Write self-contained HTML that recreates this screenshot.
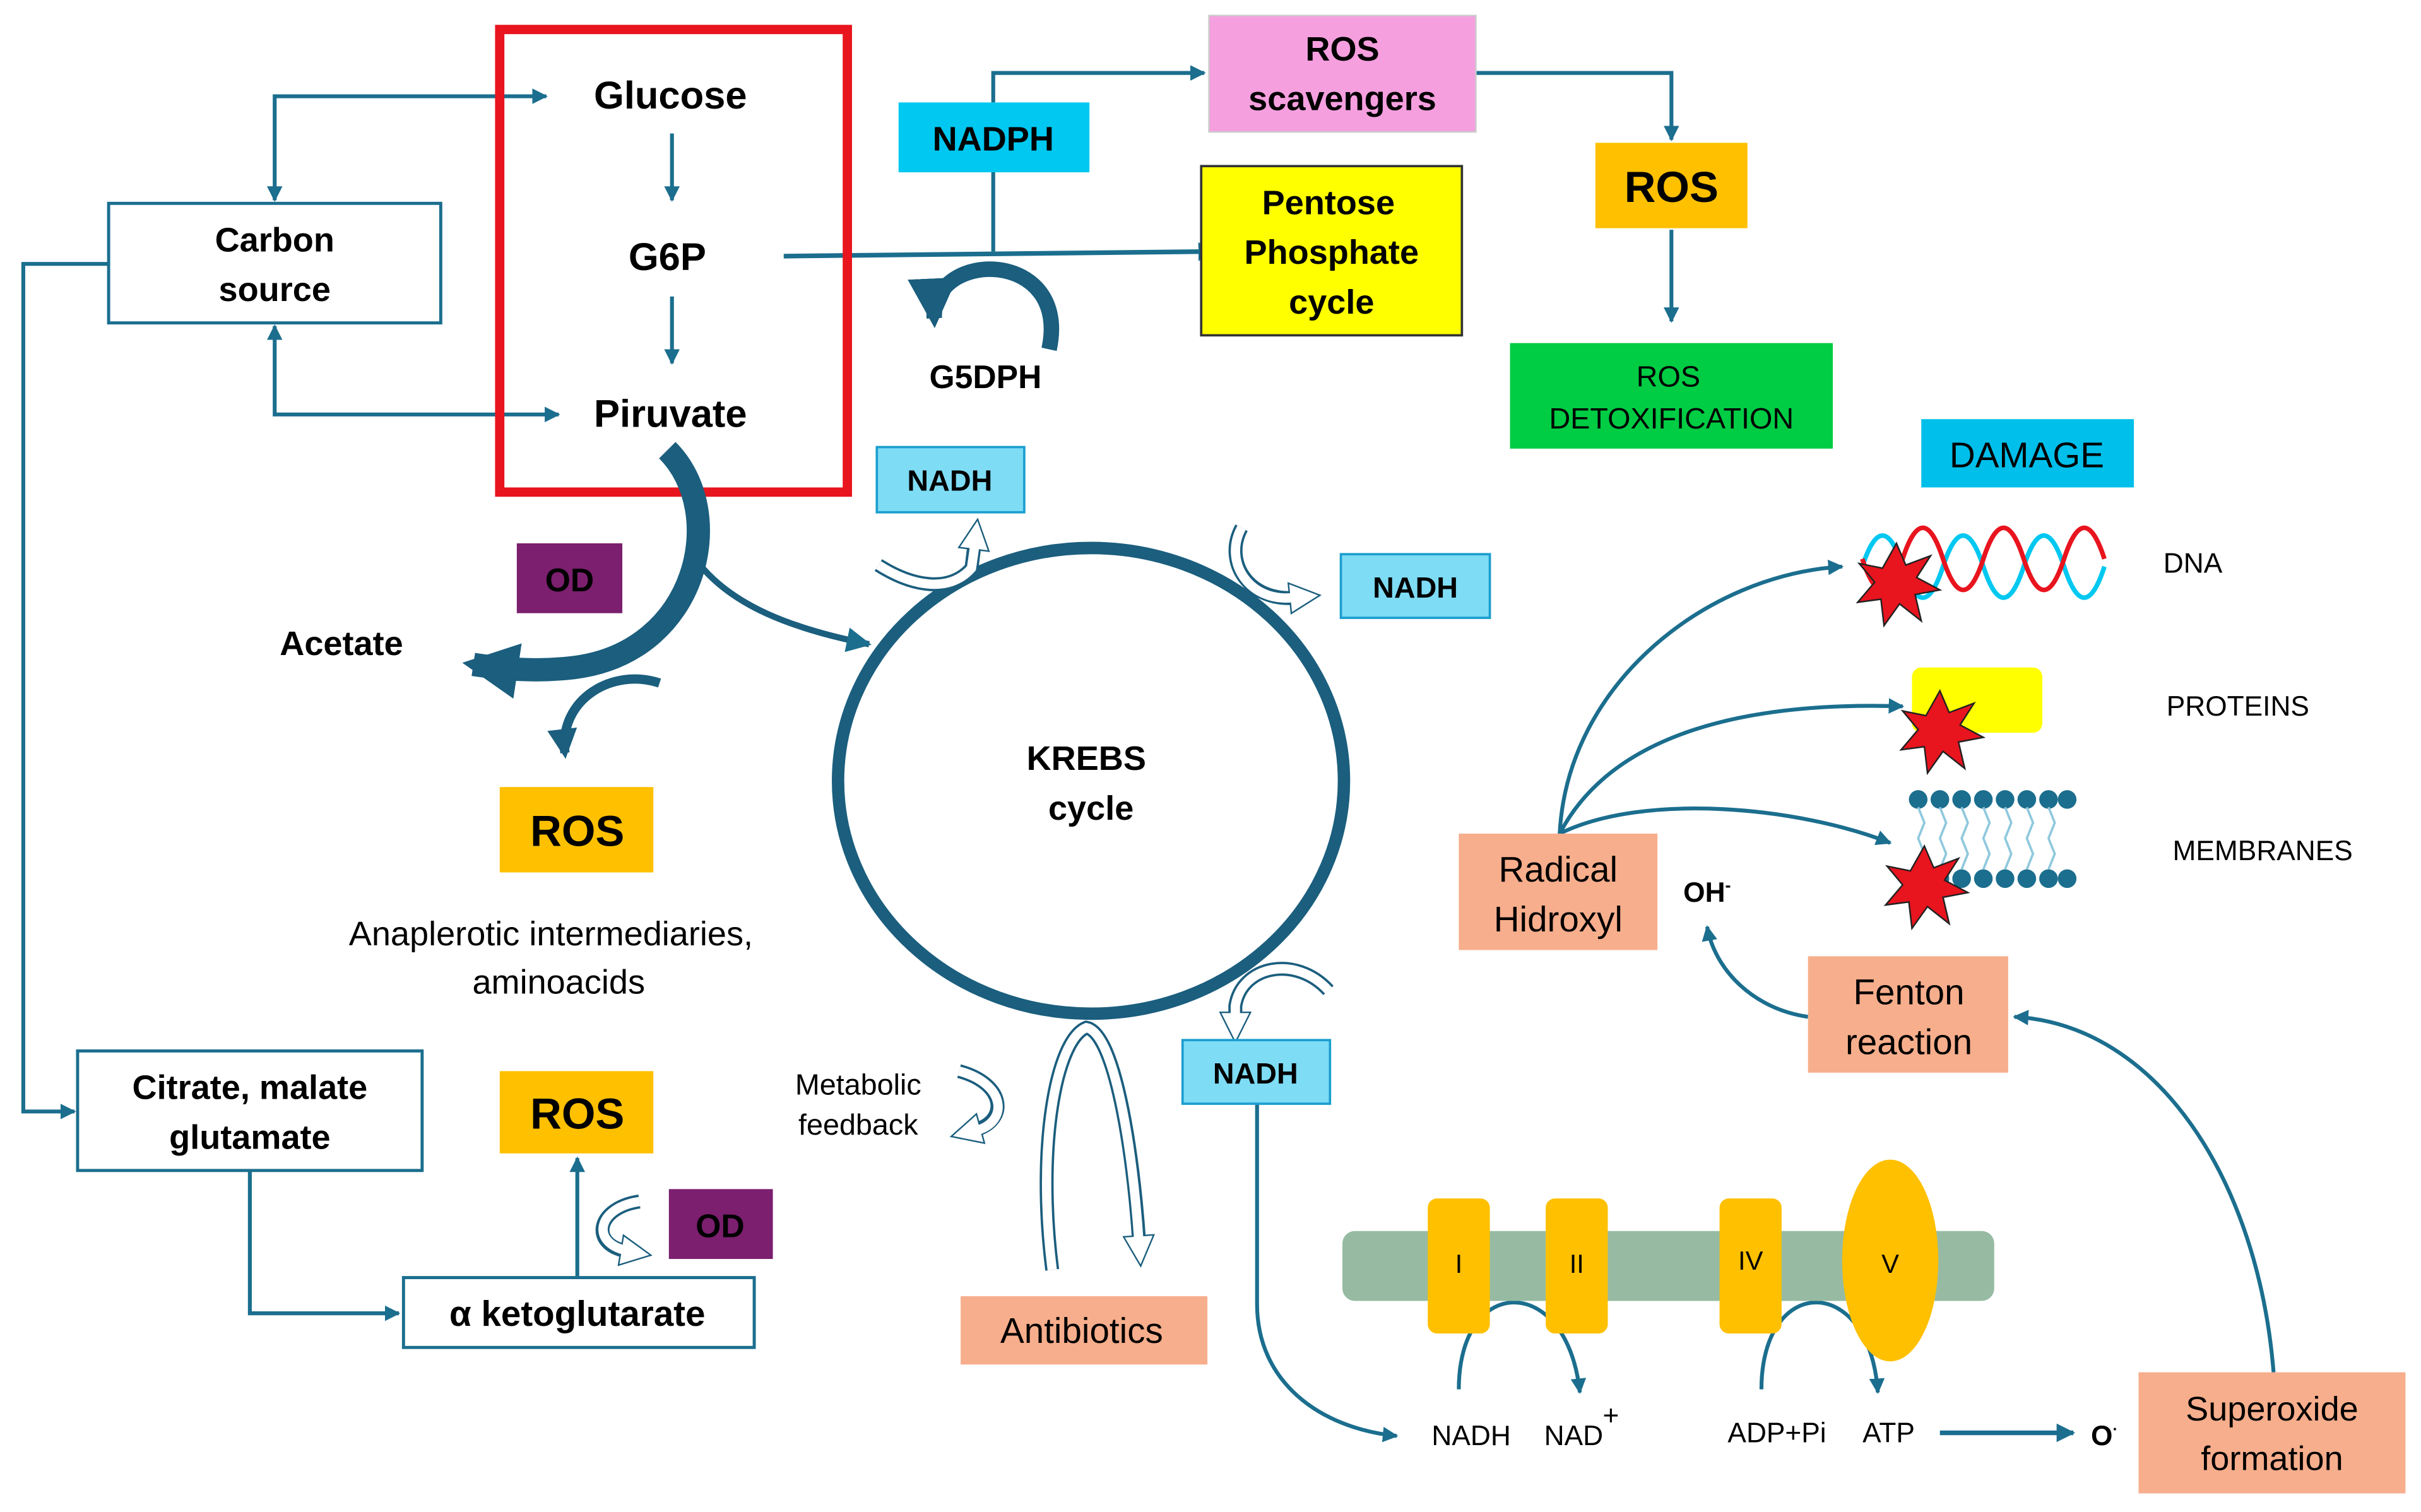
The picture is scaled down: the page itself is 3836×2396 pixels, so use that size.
<!DOCTYPE html>
<html><head><meta charset="utf-8"><style>
html,body{margin:0;padding:0;background:#fff;}
svg{display:block;}
text{font-family:"Liberation Sans","DejaVu Sans",sans-serif;}
.b{font-weight:bold;}
</style></head><body>
<svg width="3836" height="2396" viewBox="0 0 1560 974" preserveAspectRatio="none" xmlns="http://www.w3.org/2000/svg">
<defs>
<marker id="a" viewBox="0 0 10 10" refX="9" refY="5" markerWidth="4" markerHeight="4" orient="auto-start-reverse"><path d="M0,0 L10,5 L0,10 z" fill="#1B6E8E"/></marker>
<marker id="ab" viewBox="0 0 10 10" refX="8" refY="5" markerWidth="2.4" markerHeight="2.4" orient="auto"><path d="M0,0 L10,5 L0,10 z" fill="#1B5E7E"/></marker>
<marker id="ab2" viewBox="0 0 10 10" refX="8" refY="5" markerWidth="3.2" markerHeight="3.2" orient="auto"><path d="M0,0 L10,5 L0,10 z" fill="#1B5E7E"/></marker>
<marker id="hw" viewBox="-1 -1 12 12" refX="2" refY="5" markerWidth="2.6" markerHeight="2.6" orient="auto"><path d="M0,0 L10,5 L0,10 z" fill="#fff" stroke="#1B5E7E" stroke-width="0.5"/></marker>
</defs>
<rect width="1560" height="974" fill="#fff"/>
<g stroke="#1B6E8E" stroke-width="2.5" fill="none">
<polyline points="177,129 177,62 352,62" marker-start="url(#a)" marker-end="url(#a)"/>
<polyline points="177,210 177,267 360,267" marker-start="url(#a)" marker-end="url(#a)"/>
<polyline points="70,170 15,170 15,716 48,716" marker-end="url(#a)"/>
<polyline points="161,754 161,846 257,846" marker-end="url(#a)"/>
<line x1="433" y1="86" x2="433" y2="129" marker-end="url(#a)"/>
<line x1="433" y1="191" x2="433" y2="234" marker-end="url(#a)"/>
<line x1="372" y1="822" x2="372" y2="746" marker-end="url(#a)"/>
<line x1="505" y1="165" x2="783" y2="162" stroke-width="3" marker-end="url(#a)"/>
<line x1="640" y1="111" x2="640" y2="162"/>
<polyline points="640,66 640,47 776,47" marker-end="url(#a)"/>
<polyline points="951,47 1077,47 1077,90" marker-end="url(#a)"/>
<line x1="1077" y1="148" x2="1077" y2="207" marker-end="url(#a)"/>
<path d="M1005,537 C1010,440 1100,370 1187,365" marker-end="url(#a)"/>
<path d="M1005,537 C1040,470 1130,452 1226,455" marker-end="url(#a)"/>
<path d="M1005,537 C1060,510 1160,520 1218,543" marker-end="url(#a)"/>
<path d="M1165,655 C1130,650 1105,625 1100,597" marker-end="url(#a)"/>
<path d="M1465,884 C1455,760 1390,660 1298,655" marker-end="url(#a)"/>
<path d="M810,711 L810,840 C810,890 850,920 900,925" marker-end="url(#a)"/>
<path d="M940,895 C940,820 1010,820 1018,897" marker-end="url(#a)"/>
<path d="M1135,895 C1135,820 1205,820 1210,897" marker-end="url(#a)"/>
<line x1="1250" y1="923" x2="1336" y2="923" stroke-width="3" marker-end="url(#a)"/>
</g>
<rect x="322" y="19" width="224" height="298" fill="none" stroke="#E8141E" stroke-width="6"/>
<text x="432" y="70" font-size="25" class="b" text-anchor="middle">Glucose</text>
<text x="430" y="174" font-size="25" class="b" text-anchor="middle">G6P</text>
<text x="432" y="275" font-size="25" class="b" text-anchor="middle">Piruvate</text>
<rect x="70" y="131" width="214" height="77" fill="#fff" stroke="#1B6E8E" stroke-width="2"/>
<text x="177" y="162" font-size="22" class="b" text-anchor="middle">Carbon</text>
<text x="177" y="194" font-size="22" class="b" text-anchor="middle">source</text>
<rect x="50" y="677" width="222" height="77" fill="#fff" stroke="#1B6E8E" stroke-width="2"/>
<text x="161" y="708" font-size="22" class="b" text-anchor="middle">Citrate, malate</text>
<text x="161" y="740" font-size="22" class="b" text-anchor="middle">glutamate</text>
<rect x="260" y="823" width="226" height="45" fill="#fff" stroke="#1B6E8E" stroke-width="2"/>
<text x="372" y="854" font-size="23" class="b" text-anchor="middle">α ketoglutarate</text>
<rect x="322" y="690" width="99" height="53" fill="#FFC000"/>
<text x="372" y="727" font-size="28" class="b" text-anchor="middle">ROS</text>
<rect x="322" y="507" width="99" height="55" fill="#FFC000"/>
<text x="372" y="545" font-size="28" class="b" text-anchor="middle">ROS</text>
<rect x="431" y="766" width="67" height="45" fill="#7B1F6E"/>
<text x="464" y="797" font-size="21" class="b" text-anchor="middle">OD</text>
<rect x="333" y="350" width="68" height="45" fill="#7B1F6E"/>
<text x="367" y="381" font-size="21" class="b" text-anchor="middle">OD</text>
<text x="220" y="422" font-size="22" class="b" text-anchor="middle">Acetate</text>
<text x="355" y="609" font-size="22" text-anchor="middle">Anaplerotic intermediaries,</text>
<text x="360" y="640" font-size="22" text-anchor="middle">aminoacids</text>
<path d="M430,290 C470,330 450,420 370,430 C345,433 325,431 305,428" fill="none" stroke="#1B5E7E" stroke-width="15" marker-end="url(#ab)"/>
<path d="M448,360 C470,390 510,405 560,415" fill="none" stroke="#1B5E7E" stroke-width="4" marker-end="url(#a)"/>
<path d="M425,440 C395,430 360,450 364,485" fill="none" stroke="#1B5E7E" stroke-width="6" marker-end="url(#ab2)"/>
<path d="M676,225 C690,160 600,160 602,205" fill="none" stroke="#1B5E7E" stroke-width="10" marker-end="url(#ab2)"/>
<text x="635" y="250" font-size="21" class="b" text-anchor="middle">G5DPH</text>
<ellipse cx="703" cy="503" rx="163" ry="150" fill="#fff" stroke="#1B5E7E" stroke-width="8"/>
<text x="700" y="496" font-size="22" class="b" text-anchor="middle">KREBS</text>
<text x="703" y="528" font-size="22" class="b" text-anchor="middle">cycle</text>
<!-- hollow block arrows -->
<g fill="none" stroke="#1B5E7E" stroke-width="9">
<path id="h1" d="M566,364 C588,378 612,382 626,366 L628,350" marker-end="url(#hw)"/>
<path id="h2" d="M800,340 C788,362 805,388 835,385" marker-end="url(#hw)"/>
<path id="h3" d="M856,638 C835,615 800,622 796,648 L796,656" marker-end="url(#hw)"/>
<path id="h4" d="M618,690 C648,698 650,722 628,728" marker-end="url(#hw)"/>
<path id="h5" d="M678,818 C668,740 680,670 700,662 C718,665 730,740 734,800" marker-end="url(#hw)"/>
<path id="h6" d="M412,774 C384,778 380,802 404,806" marker-end="url(#hw)"/>
</g>
<g fill="none" stroke="#fff" stroke-width="6">
<path d="M566,364 C588,378 612,382 626,366 L628,352"/>
<path d="M800,340 C788,362 805,388 833,385"/>
<path d="M856,638 C835,615 800,622 796,648 L796,658"/>
<path d="M618,690 C648,698 650,722 630,728"/>
<path d="M678,818 C668,740 680,670 700,662 C718,665 730,740 734,802"/>
<path d="M412,774 C384,778 380,802 406,806"/>
</g>
<text x="553" y="705" font-size="19" text-anchor="middle">Metabolic</text>
<text x="553" y="731" font-size="19" text-anchor="middle">feedback</text>
<rect x="565" y="288" width="95" height="42" fill="#7EDCF5" stroke="#1B9ECF" stroke-width="1.5"/>
<text x="612" y="316" font-size="19" class="b" text-anchor="middle">NADH</text>
<rect x="864" y="357" width="96" height="41" fill="#7EDCF5" stroke="#1B9ECF" stroke-width="1.5"/>
<text x="912" y="385" font-size="19" class="b" text-anchor="middle">NADH</text>
<rect x="762" y="670" width="95" height="41" fill="#7EDCF5" stroke="#1B9ECF" stroke-width="1.5"/>
<text x="809" y="698" font-size="19" class="b" text-anchor="middle">NADH</text>
<rect x="579" y="66" width="123" height="45" fill="#00C8F0"/>
<text x="640" y="97" font-size="22" class="b" text-anchor="middle">NADPH</text>
<rect x="779" y="10" width="172" height="75" fill="#F59FDF" stroke="#ccc" stroke-width="1"/>
<text x="865" y="39" font-size="22" class="b" text-anchor="middle">ROS</text>
<text x="865" y="71" font-size="22" class="b" text-anchor="middle">scavengers</text>
<rect x="774" y="107" width="168" height="109" fill="#FFFF00" stroke="#333" stroke-width="1.5"/>
<text x="856" y="138" font-size="22" class="b" text-anchor="middle">Pentose</text>
<text x="858" y="170" font-size="22" class="b" text-anchor="middle">Phosphate</text>
<text x="858" y="202" font-size="22" class="b" text-anchor="middle">cycle</text>
<rect x="1028" y="92" width="98" height="55" fill="#FFC000"/>
<text x="1077" y="130" font-size="28" class="b" text-anchor="middle">ROS</text>
<rect x="973" y="221" width="208" height="68" fill="#00CC44"/>
<text x="1075" y="249" font-size="19" text-anchor="middle">ROS</text>
<text x="1077" y="276" font-size="19" text-anchor="middle">DETOXIFICATION</text>
<rect x="1238" y="270" width="137" height="44" fill="#00BFEA"/>
<text x="1306" y="301" font-size="23" text-anchor="middle">DAMAGE</text>
<path d="M1200,360 Q1213,320 1226,360 T1252,360 T1278,360 T1304,360 T1330,360 T1356,360" fill="none" stroke="#00C8F0" stroke-width="3" transform="translate(0,5)"/>
<path d="M1200,360 Q1213,400 1226,360 T1252,360 T1278,360 T1304,360 T1330,360 T1356,360" fill="none" stroke="#E8141E" stroke-width="3"/>
<rect x="1232" y="430" width="84" height="42" rx="6" fill="#FFFF00"/>
<g fill="#1B6E8E">
<circle cx="1236" cy="515" r="6"/><circle cx="1250" cy="515" r="6"/><circle cx="1264" cy="515" r="6"/><circle cx="1278" cy="515" r="6"/><circle cx="1292" cy="515" r="6"/><circle cx="1306" cy="515" r="6"/><circle cx="1320" cy="515" r="6"/><circle cx="1332" cy="515" r="6"/>
<circle cx="1236" cy="566" r="6"/><circle cx="1250" cy="566" r="6"/><circle cx="1264" cy="566" r="6"/><circle cx="1278" cy="566" r="6"/><circle cx="1292" cy="566" r="6"/><circle cx="1306" cy="566" r="6"/><circle cx="1320" cy="566" r="6"/><circle cx="1332" cy="566" r="6"/>
</g>
<g stroke="#8FC8DD" stroke-width="1.5" fill="none">
<path d="M1236,520 l4,10 -4,10 4,10 -4,10 M1250,520 l4,10 -4,10 4,10 -4,10 M1264,520 l4,10 -4,10 4,10 -4,10 M1278,520 l4,10 -4,10 4,10 -4,10 M1292,520 l4,10 -4,10 4,10 -4,10 M1306,520 l4,10 -4,10 4,10 -4,10 M1320,520 l4,10 -4,10 4,10 -4,10"/>
</g>
<g fill="#E8141E" stroke="#222" stroke-width="1">
<polygon points="1222,350 1228,364 1244,358 1235,372 1250,380 1234,383 1238,400 1224,389 1214,403 1212,386 1197,388 1208,375 1198,363 1213,366"/>
<polygon points="1250,445 1256,459 1272,453 1263,467 1278,475 1262,478 1266,495 1252,484 1242,498 1240,481 1225,483 1236,470 1226,458 1241,461"/>
<polygon points="1240,545 1246,559 1262,553 1253,567 1268,575 1252,578 1256,595 1242,584 1232,598 1230,581 1215,583 1226,570 1216,558 1231,561"/>
</g>
<text x="1413" y="369" font-size="18" text-anchor="middle">DNA</text>
<text x="1442" y="461" font-size="18" text-anchor="middle">PROTEINS</text>
<text x="1458" y="554" font-size="18" text-anchor="middle">MEMBRANES</text>
<rect x="940" y="537" width="128" height="75" fill="#F7AE8C"/>
<text x="1004" y="568" font-size="23" text-anchor="middle">Radical</text>
<text x="1004" y="600" font-size="23" text-anchor="middle">Hidroxyl</text>
<text x="1100" y="581" font-size="18" class="b" text-anchor="middle">OH<tspan font-size="11" dy="-7">-</tspan></text>
<rect x="1165" y="616" width="129" height="75" fill="#F7AE8C"/>
<text x="1230" y="647" font-size="23" text-anchor="middle">Fenton</text>
<text x="1230" y="679" font-size="23" text-anchor="middle">reaction</text>
<rect x="1378" y="884" width="172" height="78" fill="#F7AE8C"/>
<text x="1464" y="915" font-size="22" text-anchor="middle">Superoxide</text>
<text x="1464" y="947" font-size="22" text-anchor="middle">formation</text>
<rect x="619" y="835" width="159" height="44" fill="#F7AE8C"/>
<text x="697" y="865" font-size="23" text-anchor="middle">Antibiotics</text>
<rect x="865" y="793" width="420" height="45" rx="8" fill="#96BBA2"/>
<rect x="920" y="772" width="40" height="87" rx="6" fill="#FFC000"/>
<rect x="996" y="772" width="40" height="87" rx="6" fill="#FFC000"/>
<rect x="1108" y="772" width="40" height="87" rx="6" fill="#FFC000"/>
<ellipse cx="1218" cy="812" rx="31" ry="65" fill="#FFC000"/>
<text x="940" y="820" font-size="17" text-anchor="middle">I</text>
<text x="1016" y="820" font-size="17" text-anchor="middle">II</text>
<text x="1128" y="818" font-size="17" text-anchor="middle">IV</text>
<text x="1218" y="820" font-size="17" text-anchor="middle">V</text>
<text x="948" y="931" font-size="18" text-anchor="middle">NADH</text>
<text x="1014" y="931" font-size="18" text-anchor="middle">NAD</text>
<text x="1038" y="918" font-size="18" text-anchor="middle">+</text>
<text x="1145" y="929" font-size="18" text-anchor="middle">ADP+Pi</text>
<text x="1217" y="929" font-size="18" text-anchor="middle">ATP</text>
<text x="1356" y="931" font-size="18" class="b" text-anchor="middle">O<tspan font-size="10" dy="-7">·</tspan></text>
</svg>
</body></html>
